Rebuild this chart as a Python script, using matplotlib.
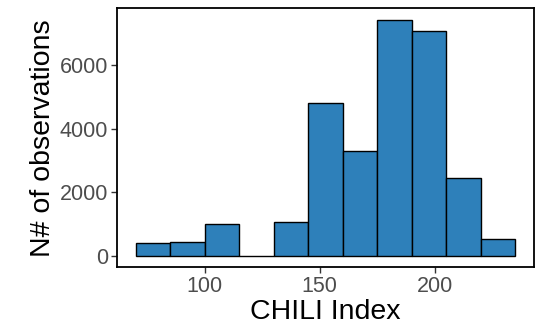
import numpy as np
import matplotlib
matplotlib.use('Agg')
import matplotlib.pyplot as plt

plt.rcParams['font.family'] = ['Liberation Sans', 'DejaVu Sans']

# histogram bins (binwidth 15) and counts
bin_edges = [70, 85, 100, 115, 130, 145, 160, 175, 190, 205, 220, 235]
counts = [395, 436, 995, 0, 1070, 4802, 3287, 7424, 7082, 2438, 519]
x_ticks = [100, 150, 200]
y_ticks = [0, 2000, 4000, 6000]

fig = plt.figure(figsize=(5.47, 3.35), dpi=100)
ax = fig.add_axes([0.2133, 0.2021, 0.7629, 0.7731])

edges = np.array(bin_edges)
ax.bar(edges[:-1], counts, width=np.diff(edges), align='edge',
       color='#2E80BA', edgecolor='black', linewidth=1.0)

span = edges[-1] - edges[0]
ax.set_xlim(edges[0] - 0.05 * span, edges[-1] + 0.05 * span)
ymax = max(counts)
ax.set_ylim(-0.05 * ymax, ymax * 1.05)

ax.set_xticks(x_ticks)
ax.set_yticks(y_ticks)
ax.tick_params(axis='both', labelsize=15.5, labelcolor='#4D4D4D',
               color='#333333', length=4, width=1, pad=2)
for s in ax.spines.values():
    s.set_linewidth(1.3)
    s.set_color('black')

ax.set_xlabel('CHILI Index', fontsize=20.5, labelpad=2)
ax.set_ylabel('N# of observations', fontsize=20.5, labelpad=3)

fig.savefig('out.png', dpi=100)
